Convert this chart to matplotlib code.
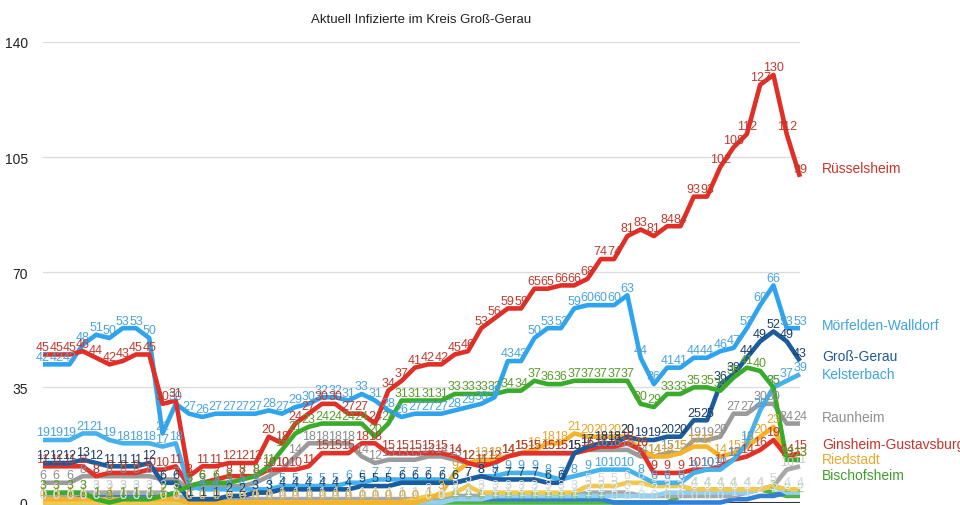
import matplotlib
matplotlib.use("Agg")
import matplotlib.pyplot as plt

plt.rcParams['font.family'] = ['Liberation Sans', 'DejaVu Sans']

# Aktuell Infizierte je Kommune, ein Wert pro Tag
ruesselsheim = [45, 45, 45, 46, 44, 42, 43, 45, 45, 30, 31,
                8, 11, 11, 12, 12, 12, 20, 18, 24, 27,
                30, 30, 27, 27, 24, 34, 37, 41, 42, 42,
                45, 46, 53, 56, 59, 59, 65, 65, 66, 66,
                68, 74, 74, 81, 83, 81, 84, 84, 93, 93,
                102, 108, 112, 127, 130, 112, 99]
moerfelden = [42, 42, 42, 48, 51, 50, 53, 53, 50, 21, 30,
              27, 26, 27, 27, 27, 27, 28, 27, 29, 30,
              32, 32, 31, 33, 31, 28, 26, 27, 27, 27,
              28, 29, 30, 32, 43, 43, 50, 53, 53, 59,
              60, 60, 60, 63, 44, 36, 41, 41, 44, 44,
              46, 47, 53, 60, 66, 53, 53]
gross_gerau = [12, 12, 12, 13, 12, 11, 11, 11, 12, 6, 6,
               1, 1, 1, 2, 2, 3, 3, 4, 4, 4,
               4, 4, 4, 5, 5, 5, 6, 6, 6, 6,
               6, 7, 8, 7, 7, 7, 7, 6, 6, 15,
               17, 18, 18, 20, 19, 19, 20, 20, 25, 25,
               36, 39, 44, 49, 52, 49, 43]
kelsterbach = [19, 19, 19, 21, 21, 19, 18, 18, 18, 17, 18,
               5, 4, 4, 4, 4, 4, 4, 5, 5, 5,
               5, 5, 6, 6, 7, 7, 7, 7, 7, 7,
               6, 7, 8, 8, 9, 9, 9, 8, 7, 8,
               9, 10, 10, 10, 8, 6, 6, 6, 9, 10,
               10, 13, 18, 28, 35, 37, 39]
raunheim = [6, 6, 6, 8, 8, 8, 8, 8, 8, 7, 7,
            4, 5, 5, 5, 5, 6, 8, 10, 14, 18,
            18, 18, 18, 14, 12, 13, 13, 13, 14, 14,
            13, 12, 12, 13, 14, 15, 15, 15, 15, 15,
            16, 16, 16, 16, 14, 14, 15, 15, 19, 19,
            20, 27, 27, 30, 30, 24, 24]
ginsheim = [11, 11, 11, 11, 8, 9, 9, 9, 10, 10, 11,
            5, 6, 7, 8, 8, 8, 10, 10, 10, 11,
            15, 15, 15, 18, 18, 15, 15, 15, 15, 15,
            14, 12, 11, 12, 14, 15, 15, 15, 15, 15,
            16, 17, 17, 18, 16, 9, 9, 9, 10, 10,
            11, 13, 14, 16, 19, 14, 15]
riedstadt = [1, 1, 1, 1, 1, 1, 1, 1, 1, 1, 1,
             0, 0, 0, 0, 0, 0, 0, 0, 0, 0,
             0, 0, 0, 0, 0, 0, 0, 0, 1, 3,
             9, 12, 13, 13, 14, 15, 16, 18, 18, 21,
             20, 20, 20, 20, 16, 14, 14, 15, 17, 17,
             14, 15, 17, 20, 23, 13, 13]
bischofsheim = [3, 3, 3, 3, 1, 0, 1, 1, 1, 2, 3,
                5, 6, 6, 6, 7, 8, 11, 16, 21, 23,
                24, 24, 24, 24, 20, 24, 31, 31, 31, 31,
                33, 33, 33, 33, 34, 34, 37, 36, 36, 37,
                37, 37, 37, 37, 30, 29, 33, 33, 35, 35,
                34, 38, 41, 40, 35, 13, 13]
# Kommunen, deren Beschriftung unten abgeschnitten ist
gernsheim = [0, 0, 0, 0, 0, 0, 0, 0, 0, 0, 0,
             0, 0, 0, 0, 0, 0, 0, 0, 0, 0,
             0, 0, 0, 0, 0, 0, 0, 1, 2, 2,
             3, 5, 3, 3, 3, 3, 3, 3, 3, 3,
             5, 5, 5, 6, 6, 5, 5, 5, 4, 4,
             4, 4, 4, 4, 5, 4, 4]
nauheim = [0, 0, 0, 0, 0, 0, 0, 0, 0, 0, 0,
           0, 0, 0, 0, 0, 0, 0, 0, 0, 0,
           0, 0, 0, 0, 0, 0, 0, 0, 0, 0,
           1, 1, 1, 2, 2, 2, 2, 2, 2, 2,
           2, 2, 2, 2, 2, 2, 3, 3, 3, 3,
           3, 3, 3, 4, 5, 3, 3]
trebur = [2, 2, 2, 3, 3, 3, 3, 3, 3, 3, 2,
          1, 1, 1, 1, 1, 1, 1, 1, 1, 1,
          1, 1, 1, 1, 1, 1, 1, 1, 1, 1,
          2, 2, 2, 2, 2, 2, 2, 2, 2, 2,
          3, 3, 3, 3, 2, 2, 2, 2, 2, 2,
          2, 2, 3, 4, 5, 10, 11]
buettelborn = [2, 2, 2, 2, 2, 2, 2, 2, 2, 2, 2,
               1, 1, 1, 1, 1, 1, 1, 1, 1, 1,
               1, 1, 1, 1, 1, 1, 1, 1, 1, 1,
               1, 1, 1, 1, 1, 1, 1, 1, 1, 1,
               1, 1, 0, 0, 0, 0, 0, 0, 0, 0,
               0, 1, 1, 2, 2, 3, 3]
stockstadt = [0, 0, 0, 0, 0, 0, 0, 0, 0, 0, 0,
              0, 0, 0, 0, 0, 0, 0, 0, 0, 0,
              0, 0, 0, 0, 0, 0, 0, 0, 0, 0,
              0, 0, 0, 0, 0, 0, 0, 0, 0, 0,
              0, 0, 0, 0, 0, 0, 0, 2, 4, 4,
              4, 4, 4, 4, 3, 2, 2]

# name, werte, linienfarbe, beschriftungsfarbe, legende
series = [
    ('Stockstadt', stockstadt, '#55b244', '#7fbf6a', False),
    ('Büttelborn', buettelborn, '#2f80d6', '#cfe3f5', False),
    ('Trebur', trebur, '#a8a8a8', '#c8c8c8', False),
    ('Nauheim', nauheim, '#8fd0f3', '#e8f4fb', False),
    ('Gernsheim', gernsheim, '#f2c94c', '#d8d8d8', False),
    ('Raunheim', raunheim, '#9b9b9b', '#8c8c8c', True),
    ('Riedstadt', riedstadt, '#f4b32c', '#e3a52b', True),
    ('Ginsheim-Gustavsburg', ginsheim, '#e3312a', '#c0392b', True),
    ('Kelsterbach', kelsterbach, '#45b2ee', '#4aa3dc', True),
    ('Groß-Gerau', gross_gerau, '#1c5c9c', '#1d3f66', True),
    ('Bischofsheim', bischofsheim, '#38ab2a', '#5a9c2c', True),
    ('Mörfelden-Walldorf', moerfelden, '#2ea3ee', '#4aa3dc', True),
    ('Rüsselsheim', ruesselsheim, '#df2f27', '#c0392b', True),
]
legend_shift = {'Rüsselsheim': 2.7, 'Mörfelden-Walldorf': 1.0, 'Groß-Gerau': 1.5,
                'Kelsterbach': 0.0, 'Raunheim': 2.0, 'Ginsheim-Gustavsburg': 2.8,
                'Riedstadt': 0.2, 'Bischofsheim': -4.6}
legend_color = {'Rüsselsheim': '#c8342b', 'Mörfelden-Walldorf': '#3ea3e0',
                'Groß-Gerau': '#1f5a92', 'Kelsterbach': '#3ea3e0', 'Raunheim': '#8f8f8f',
                'Ginsheim-Gustavsburg': '#c8342b', 'Riedstadt': '#e8aa2a',
                'Bischofsheim': '#3f9f2a'}

fig = plt.figure(figsize=(9.6, 5.06), dpi=100)
ax = fig.add_axes([43 / 960, 2.5 / 506, 757 / 960, 460.5 / 506])

days = list(range(len(ruesselsheim)))

for k, (name, vals, col, lcol, in_legend) in enumerate(series):
    ax.plot(days, vals, color=col, lw=3.3, solid_joinstyle='round',
            solid_capstyle='butt', clip_on=False, zorder=3 + k * 0.1)
    for d, v in zip(days, vals):
        ax.annotate(str(v), (d, v), xytext=(0, 1.2), textcoords='offset points',
                    ha='center', va='bottom', fontsize=9, color=lcol,
                    zorder=10 + k * 0.1, annotation_clip=False)
    if in_legend:
        ax.text(1.029, vals[-1] + legend_shift[name], name, transform=ax.get_yaxis_transform(),
                ha='left', va='center', fontsize=10, color=legend_color[name])

ax.set_xlim(0, len(days) - 1)
ax.set_ylim(0, 140)
ax.set_yticks([0, 35, 70, 105, 140])
ax.tick_params(axis='y', length=0, pad=11, labelsize=10, labelcolor='#222222')
ax.set_xticks([])
ax.grid(axis='y', color='#dcdcdc', lw=0.9)
ax.set_axisbelow(True)
for s in ax.spines.values():
    s.set_visible(False)
ax.axhline(0, color='#333333', lw=1.5, zorder=1)

fig.text(421 / 960, 1 - 20 / 506, 'Aktuell Infizierte im Kreis Groß-Gerau',
         ha='center', va='center', fontsize=9.5, color='#222222')

fig.savefig('out.png', dpi=100)
